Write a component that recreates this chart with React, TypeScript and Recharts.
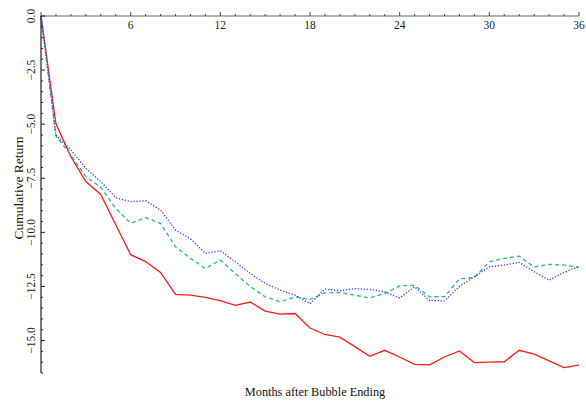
import React from 'react'
import { LineChart, Line, XAxis, YAxis } from 'recharts'

const months = Array.from({ length: 37 }, (_, i) => i)

const redSeries = [
  0, -4.98, -6.5, -7.65, -8.25, -9.65, -11.03, -11.35, -11.85, -12.87, -12.9, -13.0, -13.15,
  -13.37, -13.22, -13.64, -13.78, -13.75, -14.42, -14.72, -14.84, -15.28, -15.73, -15.45, -15.76,
  -16.1, -16.12, -15.76, -15.48, -16.02, -16.0, -15.98, -15.45, -15.63, -15.94, -16.25, -16.14
]

const greenSeries = [
  0, -5.55, -6.42, -7.42, -7.92, -8.89, -9.58, -9.32, -9.58, -10.67, -11.2, -11.67, -11.28,
  -11.9, -12.5, -12.98, -13.21, -12.98, -13.1, -12.8, -12.78, -12.9, -13.03, -12.82, -12.47,
  -12.45, -12.98, -12.97, -12.15, -12.08, -11.36, -11.2, -11.1, -11.6, -11.48, -11.51, -11.62
]

const blueSeries = [
  0, -5.5, -6.19, -7.04, -7.66, -8.4, -8.58, -8.54, -8.97, -9.89, -10.3, -10.97, -10.85,
  -11.36, -11.9, -12.36, -12.67, -12.9, -13.3, -12.62, -12.7, -12.6, -12.64, -12.75, -13.03,
  -12.52, -13.14, -13.17, -12.5, -12.05, -11.59, -11.51, -11.39, -11.82, -12.21, -11.85, -11.58
]

const xTicks = months
const yTicks = Array.from({ length: 34 }, (_, i) => -i * 0.5)

const data = months.map((m, i) => ({
  month: m,
  red: redSeries[i],
  green: greenSeries[i],
  blue: blueSeries[i]
}))

// plot box: top 16, left 41, right 579, bottom 373
const X_AXIS_H = 10
const Y_AXIS_W = 20
const M = { top: 6, left: 21, right: 7, bottom: 30 }
const AXIS_TOP = M.top + X_AXIS_H
const AXIS_LEFT = M.left + Y_AXIS_W
const FONT = '"Liberation Serif", "Times New Roman", serif'

const XTick = (props: any) => {
  const { x, payload } = props
  const v = payload.value
  const major = v % 6 === 0
  return (
    <g>
      <line x1={x} x2={x} y1={AXIS_TOP} y2={AXIS_TOP - (major ? 4 : 2)} stroke="#444" strokeWidth={1} />
      {major && v > 0 && (
        <text x={x} y={AXIS_TOP + 13} textAnchor="middle" fontSize={11.5} fontFamily={FONT} fill="#222">
          {v}
        </text>
      )}
    </g>
  )
}

const YTick = (props: any) => {
  const { y, payload } = props
  const v = payload.value
  const q = v / 2.5
  const major = Math.abs(q - Math.round(q)) < 1e-6
  const label = v === 0 ? '0.0' : '\u2212' + Math.abs(v).toFixed(1)
  return (
    <g>
      <line x1={AXIS_LEFT} x2={AXIS_LEFT + (major ? 4 : 2)} y1={y} y2={y} stroke="#222" strokeWidth={1} />
      {major && (
        <text
          x={35}
          y={y}
          transform={`rotate(-90, 35, ${y})`}
          textAnchor="middle"
          fontSize={11.5}
          fontFamily={FONT}
          fill="#222"
        >
          {label}
        </text>
      )}
    </g>
  )
}

export default function App() {
  return (
    <div style={{ position: 'absolute', left: 0, top: 0, background: '#fff' }}>
      <LineChart width={586} height={403} data={data} margin={M}>
        <XAxis
          dataKey="month"
          type="number"
          domain={[0, 36]}
          ticks={xTicks}
          interval={0}
          orientation="top"
          height={X_AXIS_H}
          axisLine={{ stroke: '#666', strokeWidth: 1.2 }}
          tickLine={false}
          tick={<XTick />}
        />
        <YAxis
          type="number"
          domain={[-16.5, 0]}
          ticks={yTicks}
          interval={0}
          width={Y_AXIS_W}
          allowDataOverflow
          axisLine={{ stroke: '#222', strokeWidth: 1.2 }}
          tickLine={false}
          tick={<YTick />}
        />
        <Line
          type="linear"
          dataKey="red"
          stroke="#ff1a1a"
          strokeWidth={1.3}
          dot={false}
          isAnimationActive={false}
        />
        <Line
          type="linear"
          dataKey="green"
          stroke="#22bb88"
          strokeWidth={1.3}
          strokeDasharray="4 3"
          dot={false}
          isAnimationActive={false}
        />
        <Line
          type="linear"
          dataKey="blue"
          stroke="#3a3aff"
          strokeWidth={1.3}
          strokeDasharray="1.3 1.7"
          dot={false}
          isAnimationActive={false}
        />
        <text
          x={315}
          y={396}
          textAnchor="middle"
          fontSize={12.3}
          fontFamily={FONT}
          fill="#111"
        >
          Months after Bubble Ending
        </text>
        <text
          x={23}
          y={188}
          transform="rotate(-90, 23, 188)"
          textAnchor="middle"
          fontSize={13.5}
          fontFamily={FONT}
          fill="#111"
        >
          Cumulative Return
        </text>
      </LineChart>
    </div>
  )
}
